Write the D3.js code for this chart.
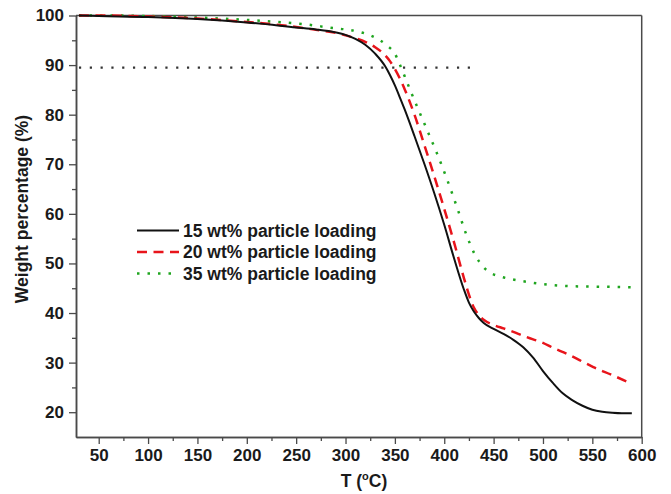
<!DOCTYPE html>
<html><head><meta charset="utf-8">
<script src="https://cdn.jsdelivr.net/npm/d3@7"></script>
<style>body{margin:0;background:#fff}svg{display:block}text{font-family:"Liberation Sans",Arial,sans-serif;font-weight:bold;fill:#1a1a1a}</style>
</head><body>
<script>
const temp15 = [30,50,100,150,200,250,270,290,300,310,320,330,340,345,350,355,360,370,380,390,400,410,420,425,430,435,440,450,460,470,480,490,500,510,520,530,540,550,560,570,580,590];
const w15    = [100,99.9,99.7,99.3,98.6,97.6,97.2,96.6,96.1,95.3,94.1,92.3,89.8,88.0,85.9,83.5,81.0,75.6,70.0,64.1,57.8,51.0,44.7,42.1,40.3,39.0,38.0,36.8,35.8,34.6,33.1,31.0,28.3,25.9,23.8,22.4,21.3,20.5,20.1,19.9,19.8,19.8];
const temp20 = [30,50,100,150,200,250,270,290,300,310,320,330,340,345,350,355,360,370,380,390,400,410,420,425,430,435,441,450,460,470,480,490,500,510,524,537,551,570,589];
const w20    = [100,100,99.8,99.4,98.7,97.7,97.1,96.5,96.0,95.4,94.7,93.6,92.0,90.8,89.2,87.3,85.1,79.9,73.8,67.5,61.0,54.2,47.0,43.7,41.1,39.6,38.5,37.6,36.9,36.2,35.4,34.7,34.0,33.0,31.8,30.5,29.1,27.5,25.8];
const temp35 = [30,50,100,150,200,250,260,290,300,316,325,335,343,350,355,360,365,370,376,382,392,402,414,422,426,431,436,441,446,456,466,480,497,530,560,591];
const w35    = [100,100,99.9,99.6,99.1,98.4,98.2,97.4,97.2,96.6,96.0,95.0,93.8,92.3,90.1,87.7,85.2,82.8,80.0,77.2,72.5,67.4,60.7,56.0,54.0,51.8,50.2,49.0,48.2,47.4,46.9,46.4,45.9,45.4,45.3,45.2];
const refLevel = 89.5, refEnd = 428;
const xTicks = [50,100,150,200,250,300,350,400,450,500,550,600];
const yTicks = [20,30,40,50,60,70,80,90,100];
const legendLabels = ["15 wt% particle loading","20 wt% particle loading","35 wt% particle loading"];

const W = 671, H = 494;
const svg = d3.select("body").append("svg").attr("width", W).attr("height", H);
const x = d3.scaleLinear().domain([27, 600]).range([76, 641.7]);
const y = d3.scaleLinear().domain([15, 100]).range([437, 15.5]);

const frameCol = "#4a4a4a";
svg.append("line").attr("x1", x(27)).attr("x2", x(600)).attr("y1", y(100)).attr("y2", y(100)).attr("stroke", frameCol).attr("stroke-width", 1.5);
svg.append("line").attr("x1", x(600)).attr("x2", x(600)).attr("y1", y(100)).attr("y2", y(15)).attr("stroke", frameCol).attr("stroke-width", 1.5);

const xMinor = d3.range(75, 600, 50);
const yMinor = d3.range(25, 100, 10);
const gx = svg.append("g").attr("transform", `translate(0,${y(15)})`);
gx.call(d3.axisBottom(x).tickValues(xTicks).tickSize(7).tickPadding(5).tickSizeOuter(0));
const gxm = svg.append("g").attr("transform", `translate(0,${y(15)})`);
gxm.call(d3.axisBottom(x).tickValues(xMinor).tickSize(4).tickFormat("").tickSizeOuter(0));
const gy = svg.append("g").attr("transform", `translate(${x(27)},0)`);
gy.call(d3.axisLeft(y).tickValues(yTicks).tickSize(7).tickPadding(5).tickSizeOuter(0));
const gym = svg.append("g").attr("transform", `translate(${x(27)},0)`);
gym.call(d3.axisLeft(y).tickValues(yMinor).tickSize(4).tickFormat("").tickSizeOuter(0));
svg.selectAll(".domain").attr("stroke", frameCol).attr("stroke-width", 1.5);
svg.selectAll(".tick line").attr("stroke", frameCol).attr("stroke-width", 1.3);
svg.selectAll(".tick text").attr("font-size", 17).attr("font-family", "Liberation Sans, Arial, sans-serif").attr("font-weight", "bold").attr("fill", "#1a1a1a");

const xt = svg.append("text").attr("x", 364).attr("y", 487).attr("text-anchor", "middle").attr("font-size", 17.5);
xt.append("tspan").text("T (");
xt.append("tspan").attr("font-size", 11).attr("dy", -7).text("o");
xt.append("tspan").attr("dy", 7).text("C)");
svg.append("text").attr("transform", "translate(28,209) rotate(-90)").attr("text-anchor", "middle").attr("font-size", 17.5).text("Weight percentage (%)");

svg.append("line").attr("x1", x(30)).attr("x2", x(refEnd)).attr("y1", y(refLevel)).attr("y2", y(refLevel))
  .attr("stroke", "#333").attr("stroke-width", 2.2).attr("stroke-dasharray", "2.2,8.6");

const line = d3.line().x(d => x(d[0])).y(d => y(d[1])).curve(d3.curveMonotoneX);
const series = [
  {t: temp15, w: w15, color: "#111", dash: null, width: 2},
  {t: temp20, w: w20, color: "#e8141b", dash: "10,6.5", width: 2.5},
  {t: temp35, w: w35, color: "#1fa51f", dash: "2.5,8", width: 2.5}
];
series.slice().reverse().forEach(s => {
  svg.append("path").datum(s.t.map((t, i) => [t, s.w[i]])).attr("d", line)
    .attr("fill", "none").attr("stroke", s.color).attr("stroke-width", s.width)
    .attr("stroke-dasharray", s.dash);
});

series.forEach((s, i) => {
  const ly = 230.5 + i * 21.5;
  svg.append("line").attr("x1", 137).attr("x2", 179).attr("y1", ly).attr("y2", ly)
    .attr("stroke", s.color).attr("stroke-width", s.width).attr("stroke-dasharray", s.dash);
  svg.append("text").attr("x", 183).attr("y", ly + 6).attr("font-size", 17.5).text(legendLabels[i]);
});
</script>
</body></html>
